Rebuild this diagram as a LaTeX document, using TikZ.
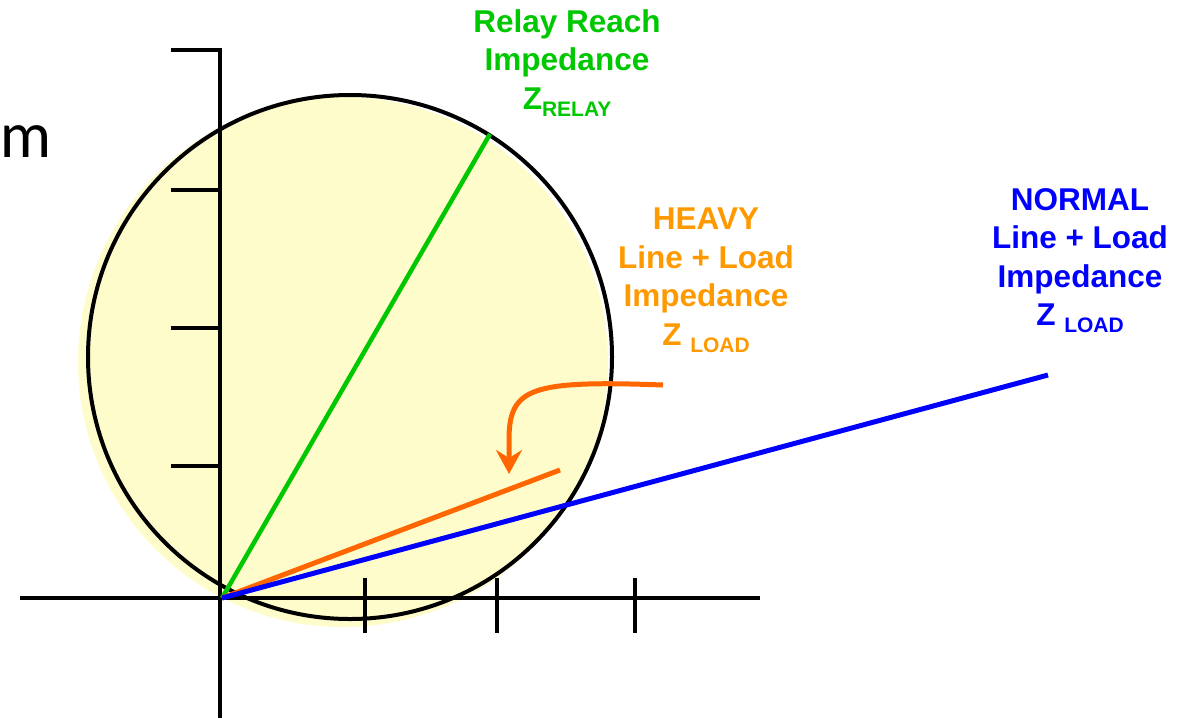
\documentclass[tikz,border=0pt]{standalone}
\usepackage{fontspec}
\setmainfont{Liberation Sans}
\newfontfamily\gillish{Lato}
\usetikzlibrary{arrows.meta,positioning,calc}
\definecolor{Rc}{HTML}{00C800}
\definecolor{Hc}{HTML}{FF9900}
\definecolor{Ha}{HTML}{FF6600}
\definecolor{Nc}{HTML}{0000FF}
\definecolor{disk}{HTML}{FFFCCB}
\tikzset{
  ax/.style={line width=4pt, black},
  lbl/.style={font=\bfseries\fontsize{31.5}{38.5}\selectfont, align=center, inner sep=0pt},
  imp/.style={line width=5pt},
  hook/.style={-{Stealth[length=24pt, width=26pt, inset=8pt]}, line width=5pt, Ha},
}
\newcommand{\sbs}[1]{\raisebox{-7pt}{\fontsize{21}{21}\selectfont #1}}

\begin{document}
\begin{tikzpicture}[x=1pt, y=-1pt]
  \useasboundingbox (0,0) rectangle (1194,718);
  \fill[disk] (343,362) circle (265);
  \draw[line width=4pt] (350,357) circle (262);
  \coordinate (O) at (222,598);
  \draw[ax] (20,598) -- (760,598);
  \draw[ax] (220,718) -- (220,48);
  \draw[ax] (171,50) -- (222,50);
  \foreach \yy in {190,328,466} \draw[ax] (171,\yy) -- (222,\yy);
  \foreach \xx in {365,497,635} \draw[ax] (\xx,578) -- (\xx,633);
  \coordinate (Zr) at (490,134);
  \coordinate (Zh) at (560,470);
  \coordinate (Zn) at (1048,375);
  \draw[imp, Rc, line width=4.5pt] (O) -- (Zr);
  \draw[imp, Ha] (O) -- (Zh);
  \draw[imp, Nc] (O) -- (Zn);
  \coordinate (hs) at (663,385);
  \coordinate (ht) at (509,474);
  \draw[hook] (hs) .. controls (530,380) and (509,388) .. (509,440) -- (ht);
  \node[lbl, Rc, anchor=north] (rlbl) at (567,9) {Relay Reach\\Impedance\\Z\sbs{RELAY}};
  \node[lbl, Hc, anchor=north] (hlbl) at (706,208) {HEAVY\\Line + Load\\Impedance\\Z \sbs{LOAD}};
  \node[lbl, Nc, anchor=north] (nlbl) at (1080,188) {NORMAL\\Line + Load\\Impedance\\Z \sbs{LOAD}};
  \node[font=\gillish\fontsize{62}{62}\selectfont, anchor=base west, inner sep=0pt] (imlbl) at (0,157) {m};
\end{tikzpicture}
\end{document}
